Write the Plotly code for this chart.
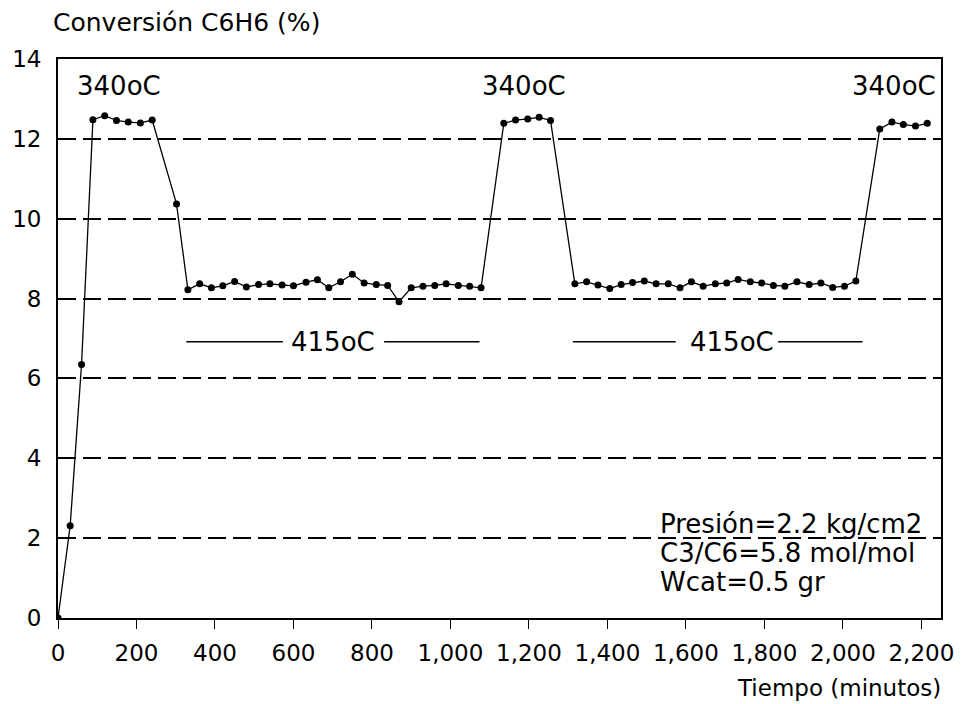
import plotly.graph_objects as go

# Benzene conversion vs. time on stream, alternating reactor temperature
tiempo = [0, 31, 60, 89, 119, 149, 179, 210, 240, 302,
          331, 361, 391, 420, 450, 480, 511, 540, 571, 600,
          632, 661, 690, 720, 750, 780, 811, 840, 869, 900,
          930, 960, 989, 1020, 1049, 1078,
          1136, 1166, 1197, 1226, 1255,
          1317, 1347, 1376, 1406, 1435, 1464, 1494, 1524, 1555, 1585,
          1614, 1644, 1675, 1704, 1733, 1764, 1793, 1823, 1852, 1883,
          1914, 1944, 1974, 2004, 2033,
          2094, 2125, 2154, 2185, 2215]
conversion = [0, 2.31, 6.35, 12.48, 12.58, 12.46, 12.42, 12.40, 12.47, 10.37,
              8.22, 8.37, 8.27, 8.32, 8.43, 8.29, 8.35, 8.37, 8.34, 8.32,
              8.41, 8.47, 8.27, 8.42, 8.61, 8.39, 8.35, 8.33, 7.92, 8.27,
              8.31, 8.33, 8.37, 8.33, 8.31, 8.27,
              12.39, 12.47, 12.50, 12.54, 12.46,
              8.37, 8.42, 8.34, 8.25, 8.35, 8.40, 8.44, 8.37, 8.37, 8.27,
              8.42, 8.31, 8.37, 8.39, 8.48, 8.42, 8.39, 8.33, 8.31, 8.42,
              8.35, 8.39, 8.28, 8.31, 8.44,
              12.25, 12.42, 12.36, 12.32, 12.39]

x_ticks = [0, 200, 400, 600, 800, 1000, 1200, 1400, 1600, 1800, 2000, 2200]
y_ticks = [0, 2, 4, 6, 8, 10, 12, 14]

# temperature labels
t_alta_txt = "340oC"
t_alta_x = [155, 1187, 2130]
t_alta_y = 13.33
t_baja_txt = "415oC"
t_baja_x = [701, 1717]
t_baja_y = 6.92
# leader segments on each side of the 415oC labels
t_baja_segmentos = [(327, 573), (831, 1074), (1312, 1574), (1835, 2050)]

condiciones = ["Presión=2.2 kg/cm2", "C3/C6=5.8 mol/mol", "Wcat=0.5 gr"]
condiciones_y = [2.35, 1.63, 0.91]
condiciones_x = 1530

FONT = "DejaVu Sans"

fig = go.Figure()
fig.add_trace(go.Scatter(
    x=tiempo, y=conversion, mode="lines+markers",
    line=dict(color="black", width=1.3),
    marker=dict(color="black", size=7, symbol="circle"),
    showlegend=False, hoverinfo="skip"))

for xc in t_alta_x:
    fig.add_annotation(x=xc, y=t_alta_y, text=t_alta_txt, showarrow=False,
                       font=dict(family=FONT, size=26, color="black"))
for xc in t_baja_x:
    fig.add_annotation(x=xc, y=t_baja_y, text=t_baja_txt, showarrow=False,
                       font=dict(family=FONT, size=26, color="black"))
for x0, x1 in t_baja_segmentos:
    fig.add_shape(type="line", x0=x0, x1=x1, y0=t_baja_y, y1=t_baja_y,
                  xref="x", yref="y", line=dict(color="black", width=1.5))

for txt, yc in zip(condiciones, condiciones_y):
    fig.add_annotation(x=condiciones_x, y=yc, text=txt, showarrow=False,
                       xanchor="left", yanchor="middle",
                       font=dict(family=FONT, size=26, color="black"))

fig.add_annotation(xref="paper", yref="paper", x=0, y=1.0, yshift=37, xshift=-7,
                   text="Conversión C6H6 (%)", showarrow=False,
                   xanchor="left", yanchor="middle",
                   font=dict(family=FONT, size=25, color="black"))
fig.add_annotation(xref="paper", yref="paper", x=1.0, y=0, yshift=-70, xshift=2,
                   text="Tiempo (minutos)", showarrow=False,
                   xanchor="right", yanchor="middle",
                   font=dict(family=FONT, size=23, color="black"))

fig.update_xaxes(range=[0, 2250], tickvals=x_ticks, tickformat=",d",
                 showgrid=False, zeroline=False,
                 showline=True, linecolor="black", linewidth=1.8, mirror=True,
                 ticks="outside", ticklen=9, tickcolor="black", tickwidth=1.2,
                 ticklabelstandoff=4,
                 tickfont=dict(family=FONT, size=23, color="black"))
fig.update_yaxes(range=[0, 14], tickvals=y_ticks,
                 showgrid=True, gridcolor="black", gridwidth=1.7,
                 griddash="18px,7px", zeroline=False,
                 showline=True, linecolor="black", linewidth=1.8, mirror=True,
                 ticks="", ticklabelstandoff=10,
                 tickfont=dict(family=FONT, size=23, color="black"))

fig.update_layout(width=966, height=704,
                  margin=dict(l=51, r=18, t=59, b=86),
                  plot_bgcolor="white", paper_bgcolor="white")

fig.write_html("out.html")
